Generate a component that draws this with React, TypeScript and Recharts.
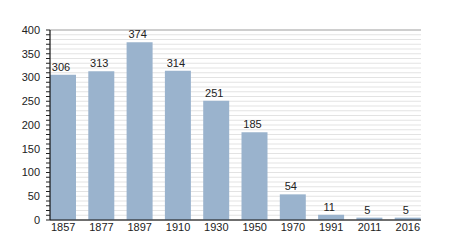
import React from "react";
import { BarChart, Bar, XAxis, YAxis, CartesianGrid, LabelList } from "recharts";

const years = ["1857", "1877", "1897", "1910", "1930", "1950", "1970", "1991", "2011", "2016"];
const population = [306, 313, 374, 314, 251, 185, 54, 11, 5, 5];
const minorTicks = [0, 10, 20, 30, 40, 50, 60, 70, 80, 90, 100, 110, 120, 130, 140, 150, 160, 170, 180, 190, 200, 210, 220, 230, 240, 250, 260, 270, 280, 290, 300, 310, 320, 330, 340, 350, 360, 370, 380, 390, 400];
const majorTicks = [0, 50, 100, 150, 200, 250, 300, 350, 400];

const data = years.map((y, i) => ({ year: y, value: population[i] }));

const font = "'Liberation Sans', Arial, sans-serif";

export default function App() {
  return (
    <div style={{ position: "absolute", left: 0, top: 0 }}>
      <BarChart
        width={450}
        height={250}
        data={data}
        margin={{ top: 30, right: 29, bottom: 0, left: 0 }}
      >
        <CartesianGrid yAxisId="main" vertical={false} stroke="#e3e3e3" strokeWidth={1} />
        <CartesianGrid yAxisId="major" vertical={false} stroke="#ababab" strokeWidth={1} />
        <XAxis
          dataKey="year"
          tickLine={false}
          axisLine={{ stroke: "#111", strokeWidth: 1.2 }}
          tick={{ fill: "#222", fontSize: 11, fontFamily: font }}
          tickMargin={3}
          tickSize={0}
          height={30}
          interval={0}
          padding={{ left: -6, right: -6 }}
        />
        <YAxis
          yAxisId="main"
          domain={[0, 400]}
          ticks={minorTicks}
          interval={0}
          width={50}
          tickSize={4}
          tickMargin={6}
          tickLine={{ stroke: "#222" }}
          axisLine={{ stroke: "#111", strokeWidth: 1.2 }}
          tick={{ fill: "#222", fontSize: 11, fontFamily: font }}
          tickFormatter={(v: number) => (v % 50 === 0 ? String(v) : "")}
        />
        <YAxis yAxisId="major" domain={[0, 400]} ticks={majorTicks} hide />
        <Bar yAxisId="main" dataKey="value" fill="#9ab3cd" barSize={26} isAnimationActive={false}>
          <LabelList
            dataKey="value"
            position="top"
            offset={4}
            dx={-2}
            style={{ fill: "#222", fontSize: 11, fontFamily: font }}
          />
        </Bar>
      </BarChart>
    </div>
  );
}
